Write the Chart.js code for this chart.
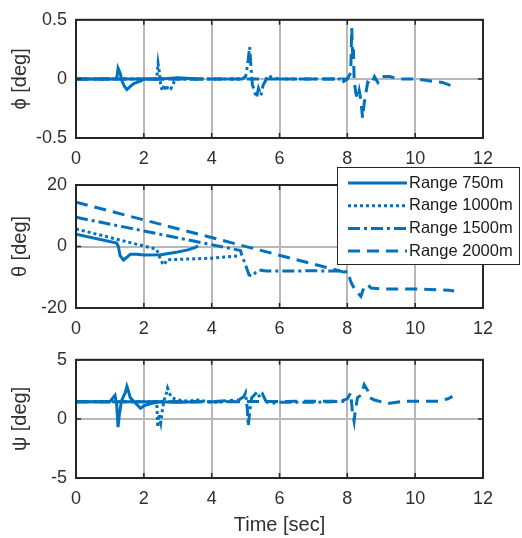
<!DOCTYPE html>
<html>
<head>
<meta charset="utf-8">
<script src="https://cdn.jsdelivr.net/npm/chart.js@4.4.0/dist/chart.umd.min.js"></script>
<style>
  html, body { margin: 0; padding: 0; background: #fff; }
  #wrap { position: relative; width: 522px; height: 538px; overflow: hidden; }
  canvas { position: absolute; left: 0; }
</style>
</head>
<body>
<div id="wrap">
  <canvas id="phiChart" width="522" height="170" style="top:0px"></canvas>
  <canvas id="thetaChart" width="522" height="180" style="top:160px"></canvas>
  <canvas id="psiChart" width="522" height="198" style="top:340px"></canvas>
</div>
<script>
// series names (legend)
var rangeLabels = ["Range 750m", "Range 1000m", "Range 1500m", "Range 2000m"];
var timeTicks = [0, 2, 4, 6, 8, 10, 12];

// roll angle phi [deg]
var phiT750 = [0, 0.5, 1.0, 1.2, 1.24, 1.3, 1.36, 1.42, 1.5, 1.58, 1.7, 1.8, 1.9, 2.0, 2.5, 3.0, 3.6];
var phiV750 = [0, 0, 0, 0, 0.09, 0.05, -0.02, -0.06, -0.09, -0.07, -0.04, -0.03, -0.02, 0, 0, 0.01, 0];
var phiT1000 = [0, 1.0, 2.0, 2.38, 2.42, 2.46, 2.5, 2.55, 2.6, 2.65, 2.72, 2.8, 2.9, 3.0, 3.5, 4.0, 4.8];
var phiV1000 = [0, 0, 0, 0, 0.13, 0.05, -0.06, -0.1, -0.05, -0.1, -0.06, -0.08, -0.02, 0, 0, 0, 0];
var phiT1500 = [0, 2.0, 4.0, 4.9, 5.0, 5.06, 5.12, 5.16, 5.2, 5.26, 5.32, 5.38, 5.45, 5.52, 5.58, 5.65, 5.8, 6.0, 7.0, 7.8, 7.85, 7.9, 8.0];
var phiV1500 = [0, 0, 0, 0, 0.02, 0.12, 0.27, 0.1, -0.05, -0.1, -0.16, -0.08, -0.14, -0.05, -0.02, 0.03, 0.01, 0, 0, 0, -0.03, -0.02, 0];
var phiT2000 = [0, 2.0, 4.0, 6.0, 8.0, 8.1, 8.13, 8.16, 8.18, 8.2, 8.25, 8.3, 8.35, 8.4, 8.45, 8.5, 8.6, 8.7, 8.8, 8.9, 9.0, 9.25, 9.5, 10.0, 10.5, 10.8, 11.1];
var phiV2000 = [0, 0, 0, 0, 0, 0.05, 0.43, 0.17, 0.25, -0.01, -0.12, -0.17, -0.1, -0.18, -0.33, -0.2, -0.03, -0.05, 0.02, -0.03, 0.02, 0.02, 0, 0, -0.02, -0.03, -0.06];

// pitch angle theta [deg]
var thetaT750 = [0, 1.2, 1.25, 1.3, 1.4, 1.5, 1.6, 1.8, 2.0, 2.5, 3.0, 3.3, 3.5, 3.6];
var thetaV750 = [4, 1.1, 0, -3, -4.4, -3.5, -2.5, -2.5, -2.8, -2.7, -1.8, -1.1, -0.4, 0.2];
var thetaT1000 = [0, 2.38, 2.45, 2.55, 2.6, 2.68, 3.0, 3.5, 4.0, 4.5, 4.8];
var thetaV1000 = [5.7, -0.9, -3, -5.5, -6, -4.3, -4.2, -4, -3.8, -3.3, -3];
var thetaT1500 = [0, 4.85, 4.9, 5.0, 5.05, 5.1, 5.2, 5.3, 5.4, 5.5, 5.6, 6.0, 7.0, 7.8, 8.0];
var thetaV1500 = [9.5, -1.3, -3.2, -6, -7.6, -9.2, -9.7, -8.4, -7.6, -7.8, -8, -8, -7.9, -8, -8.3];
var thetaT2000 = [0, 8.0, 8.05, 8.1, 8.15, 8.2, 8.3, 8.4, 8.5, 8.6, 8.7, 9.0, 10.0, 11.0, 11.15];
var thetaV2000 = [14.4, -8.6, -9.5, -11.4, -12.5, -13.5, -15, -16.2, -13, -12.4, -13.5, -13.8, -13.8, -14.2, -14.5];

// yaw angle psi [deg]
var psiT750 = [0, 1.0, 1.15, 1.2, 1.24, 1.28, 1.34, 1.4, 1.45, 1.5, 1.55, 1.6, 1.7, 1.8, 1.9, 2.0, 2.2, 2.5, 3.0, 3.6];
var psiV750 = [1.45, 1.45, 2.0, 1.2, -0.7, 0.4, 1.5, 1.9, 2.2, 2.75, 2.3, 1.8, 1.5, 1.2, 0.9, 1.1, 1.3, 1.45, 1.4, 1.45];
var psiT1000 = [0, 2.0, 2.38, 2.41, 2.45, 2.5, 2.55, 2.6, 2.65, 2.7, 2.75, 2.8, 2.9, 3.0, 3.3, 3.6, 4.0, 4.8];
var psiV1000 = [1.45, 1.45, 1.45, -0.7, 0.4, -0.3, 0.8, 1.6, 2.0, 2.6, 2.2, 1.9, 1.7, 1.6, 1.5, 1.6, 1.4, 1.5];
var psiT1500 = [0, 4.0, 4.8, 4.95, 5.0, 5.05, 5.08, 5.12, 5.18, 5.25, 5.35, 5.42, 5.5, 5.6, 5.7, 6.0, 7.0, 8.0];
var psiV1500 = [1.45, 1.45, 1.6, 1.9, 2.2, 0.9, -0.6, 0.6, 1.8, 2.0, 2.3, 1.8, 2.1, 1.5, 1.3, 1.4, 1.4, 1.5];
var psiT2000 = [0, 4.0, 7.8, 8.0, 8.1, 8.15, 8.2, 8.23, 8.3, 8.4, 8.5, 8.6, 8.66, 8.8, 9.05, 9.2, 9.7, 10.2, 10.7, 10.97, 11.1];
var psiV2000 = [1.45, 1.45, 1.5, 1.7, 2.2, 0.6, -0.2, 0.6, 1.8, 2.0, 2.9, 2.4, 1.8, 1.6, 1.4, 1.3, 1.5, 1.5, 1.5, 1.7, 1.9];

var LINE_COLOR = "#0072BD";
var TEXT_COLOR = "#303030";
var FONT = "'Liberation Sans', Arial, sans-serif";
var DASHES = [[], [3, 3], [12, 4, 3, 4], [12, 7]];

function toPoints(t, v) {
  return t.map(function (x, i) { return { x: x, y: v[i] }; });
}

// black box + inward ticks like the original figure
var framePlugin = {
  id: "frame",
  afterDatasetsDraw: function (chart) {
    var ctx = chart.ctx;
    var a = chart.chartArea;
    var sx = chart.scales.x, sy = chart.scales.y;
    ctx.save();
    ctx.strokeStyle = "#262626";
    ctx.lineWidth = 1.5;
    ctx.beginPath();
    sx.ticks.forEach(function (t) {
      var p = sx.getPixelForValue(t.value);
      ctx.moveTo(p, a.bottom); ctx.lineTo(p, a.bottom - 5);
      ctx.moveTo(p, a.top); ctx.lineTo(p, a.top + 5);
    });
    sy.ticks.forEach(function (t) {
      var p = sy.getPixelForValue(t.value);
      ctx.moveTo(a.left, p); ctx.lineTo(a.left + 5, p);
      ctx.moveTo(a.right, p); ctx.lineTo(a.right - 5, p);
    });
    ctx.stroke();
    ctx.lineWidth = 2;
    ctx.strokeRect(a.left, a.top, a.right - a.left, a.bottom - a.top);
    ctx.restore();
  }
};

// boxed legend drawn from the datasets
var boxLegendPlugin = {
  id: "boxLegend",
  afterDraw: function (chart) {
    var ctx = chart.ctx;
    ctx.save();
    ctx.fillStyle = "#fff";
    ctx.fillRect(337, 7, 183, 98);
    ctx.strokeStyle = "#262626";
    ctx.lineWidth = 1;
    ctx.strokeRect(337.5, 7.5, 182, 97);
    chart.data.datasets.forEach(function (ds, i) {
      var y = 23 + i * 22.7;
      ctx.setLineDash(ds.borderDash);
      ctx.lineWidth = 3;
      ctx.strokeStyle = ds.borderColor;
      ctx.beginPath();
      ctx.moveTo(348, y);
      ctx.lineTo(407, y);
      ctx.stroke();
      ctx.setLineDash([]);
      ctx.fillStyle = "#1a1a1a";
      ctx.font = "16.5px " + FONT;
      ctx.textBaseline = "middle";
      ctx.fillText(ds.label, 409, y);
    });
    ctx.restore();
  }
};

function createAngleChart(elementId, yTitle, yLimit, yStep, series, padTop, xHeight, xTitle, extraPlugins) {
  var datasets = series.map(function (s, i) {
    return {
      label: rangeLabels[i],
      data: toPoints(s[0], s[1]),
      borderColor: LINE_COLOR,
      borderWidth: 3,
      borderDash: DASHES[i],
      borderCapStyle: "butt",
      pointRadius: 0,
      tension: 0,
      fill: false
    };
  });

  return new Chart(document.getElementById(elementId), {
    type: "line",
    data: { datasets: datasets },
    options: {
      responsive: false,
      animation: false,
      devicePixelRatio: 1,
      events: [],
      layout: { padding: { top: padTop, right: 39, left: 0, bottom: 0 } },
      plugins: { legend: { display: false }, tooltip: { enabled: false } },
      scales: {
        x: {
          type: "linear",
          min: 0,
          max: 12,
          afterBuildTicks: function (scale) {
            scale.ticks = timeTicks.map(function (v) { return { value: v }; });
          },
          afterFit: function (scale) { scale.height = xHeight; },
          ticks: { padding: 10, color: TEXT_COLOR, font: { size: 18, family: FONT }, maxRotation: 0 },
          grid: { color: "#b8b8b8", lineWidth: 2, drawTicks: false },
          border: { display: false },
          title: {
            display: !!xTitle,
            text: xTitle || "",
            color: TEXT_COLOR,
            font: { size: 20, family: FONT },
            padding: { top: 0, bottom: 1 }
          }
        },
        y: {
          min: -yLimit,
          max: yLimit,
          ticks: { stepSize: yStep, padding: 9, color: TEXT_COLOR, font: { size: 18, family: FONT } },
          afterFit: function (scale) { scale.width = 76; },
          grid: { color: "#b8b8b8", lineWidth: 2, drawTicks: false },
          border: { display: false },
          title: {
            display: true,
            text: yTitle,
            color: TEXT_COLOR,
            font: { size: 20, family: FONT },
            padding: { top: 8, bottom: 0 }
          }
        }
      }
    },
    plugins: [framePlugin].concat(extraPlugins || [])
  });
}

createAngleChart("phiChart", "\u03D5 [deg]", 0.5, 0.5, [
  [phiT750, phiV750], [phiT1000, phiV1000], [phiT1500, phiV1500], [phiT2000, phiV2000]
], 15, 32, null);

createAngleChart("thetaChart", "\u03B8 [deg]", 20, 20, [
  [thetaT750, thetaV750], [thetaT1000, thetaV1000], [thetaT1500, thetaV1500], [thetaT2000, thetaV2000]
], 25, 32, null, [boxLegendPlugin]);

createAngleChart("psiChart", "\u03C8 [deg]", 5, 5, [
  [psiT750, psiV750], [psiT1000, psiV1000], [psiT1500, psiV1500], [psiT2000, psiV2000]
], 15, 60, "Time [sec]");
</script>
</body>
</html>
